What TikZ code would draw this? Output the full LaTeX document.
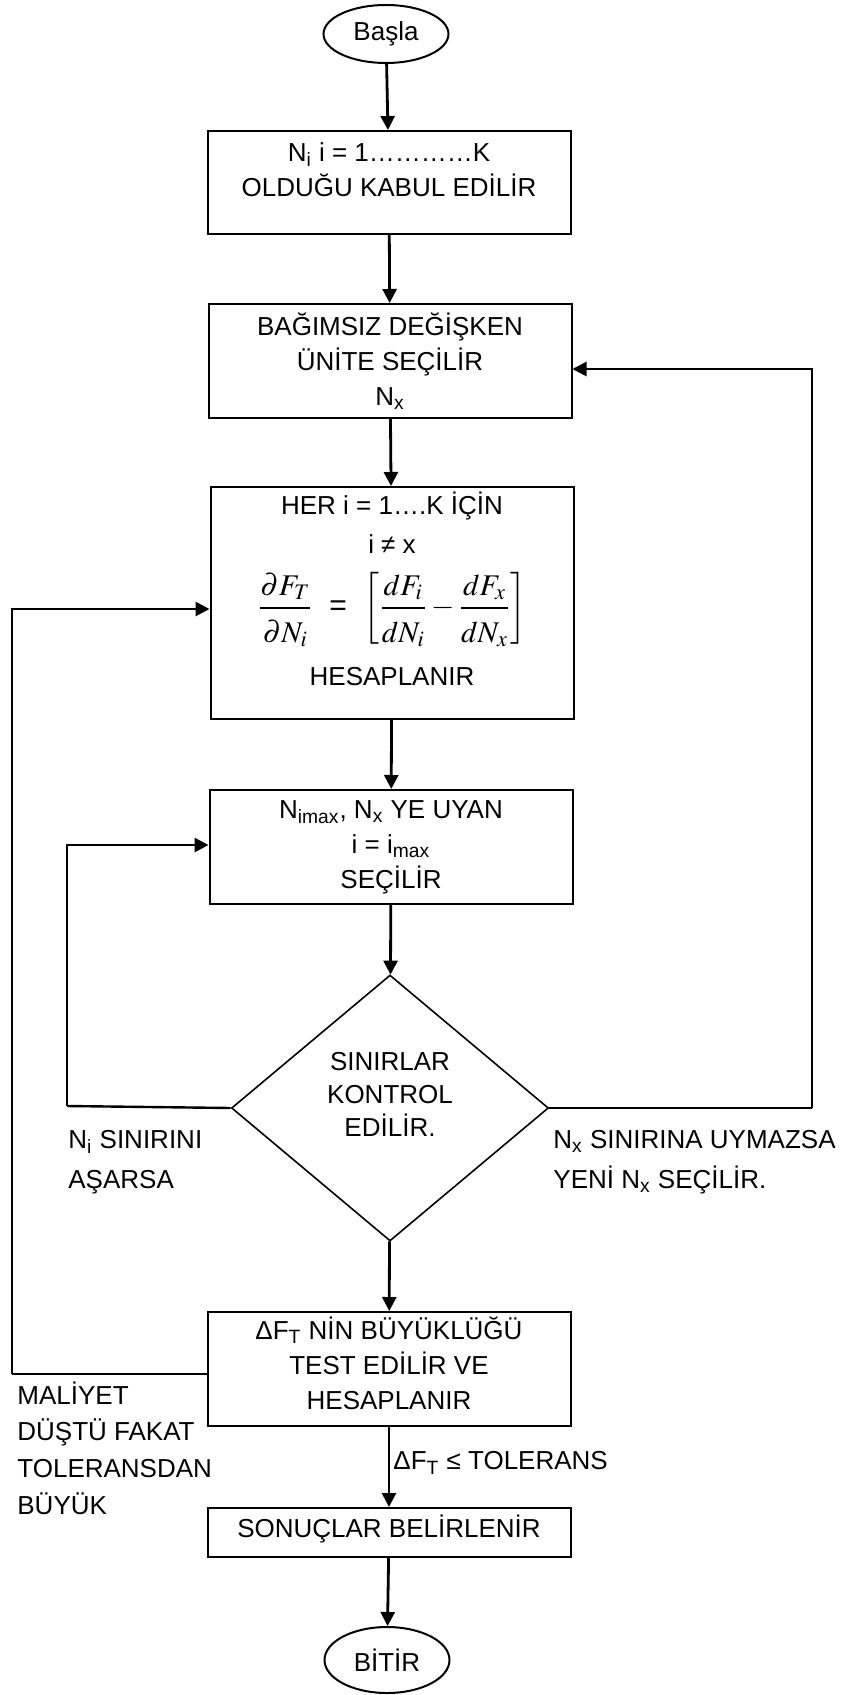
\documentclass[tikz,border=0pt]{standalone}
\usepackage{mathptmx}
\usepackage[no-math]{fontspec}
\setmainfont{Liberation Sans}
\usetikzlibrary{arrows.meta, shapes.geometric, positioning}
\tikzset{
	flownode/.style={
			shape=rectangle,
			draw=black,
			line width=1pt,
			minimum width=181.5pt,
			inner sep=0pt,
			align=center,
			font=\fontsize{13}{17.5}\selectfont
		},
	endnode/.style={
			shape=ellipse,
			draw=black,
			line width=1pt,
			minimum width=62.5pt,
			inner sep=0pt,
			font=\fontsize{13}{17.5}\selectfont
		},
	checknode/.style={
			shape=diamond,
			draw=black,
			line width=0.8pt,
			minimum width=158.5pt,
			minimum height=133pt,
			inner sep=0pt,
			align=center,
			font=\fontsize{13}{16.5}\selectfont
		},
	flowarrow/.style={
			line width=1.4pt,
			-{Triangle[length=7pt,width=7pt]}
		},
	flowline/.style={
			line width=1.2pt
		},
	labeltext/.style={
			anchor=west,
			inner sep=0pt,
			align=left,
			font=\fontsize{13}{20}\selectfont
		}
}
\newcommand{\numgap}{\rule[-4pt]{0pt}{4pt}}
\newcommand{\dengap}{\rule{0pt}{15pt}}

\begin{document}
\begin{tikzpicture}[x=0.5pt, y=-0.5pt]
  \useasboundingbox (0,0) rectangle (841,1695);

  \node[endnode, minimum height=29pt] (basla) at (386,34) {Başla};
  \node[flownode, minimum height=51.5pt] (kabul) at (389,182.5)
    {N\textsubscript{i} i = 1…………K\\OLDUĞU KABUL EDİLİR\\[-9.75pt] \strut};
  \node[flownode, minimum height=57pt] (secim) at (390,361)
    {BAĞIMSIZ DEĞİŞKEN\\ÜNİTE SEÇİLİR\\N\textsubscript{x}};
  \node[flownode, minimum height=116pt] (hesap) at (392,603)
    {HER i = 1….K İÇİN\\[2pt]i ≠ x\\[8pt]
     {\fontsize{15}{18}\selectfont$\displaystyle\frac{\partial F_T\numgap}{\dengap\partial N_i}$ \ = \ $\displaystyle\left[\frac{dF_i\numgap}{\dengap dN_i}-\frac{dF_x\numgap}{\dengap dN_x}\right]$}\\[9pt]
     HESAPLANIR\\[-8.5pt] \strut};
  \node[flownode, minimum height=57pt] (imax) at (391,847)
    {N\textsubscript{imax}, N\textsubscript{x} YE UYAN\\i = i\textsubscript{max}\\SEÇİLİR};
  \node[checknode] (kontrol) at (390,1108)
    {SINIRLAR\\KONTROL\\EDİLİR.\\[-7.75pt] \strut};
  \node[flownode, minimum height=57pt] (test) at (389,1369)
    {ΔF\textsubscript{T} NİN BÜYÜKLÜĞÜ\\TEST EDİLİR VE\\HESAPLANIR\\[-16.75pt] \strut};
  \node[flownode, minimum height=24.5pt] (sonuc) at (389,1532.5)
    {SONUÇLAR BELİRLENİR\\[-16.75pt] \strut};
  \node[endnode, minimum height=33pt] (bitir) at (387,1660) {BİTİR};

  \node[labeltext] (asarsa) at (68,1162) {N\textsubscript{i} SINIRINI\\AŞARSA};
  \node[labeltext] (uymazsa) at (553,1162) {N\textsubscript{x} SINIRINA UYMAZSA\\YENİ N\textsubscript{x} SEÇİLİR.};
  \node[labeltext, font=\fontsize{13}{18.3}\selectfont] (maliyet) at (17,1448)
    {MALİYET\\DÜŞTÜ FAKAT\\TOLERANSDAN\\BÜYÜK};
  \node[labeltext] (tolerans) at (393,1463) {ΔF\textsubscript{T} ≤ TOLERANS};

  \coordinate (sag) at (812,1108);
  \coordinate (sol) at (67,1106);
  \coordinate (dis) at (12,1374);

  \draw[flowarrow] (basla) -- (kabul);
  \draw[flowarrow] (kabul) -- (secim);
  \draw[flowarrow] (secim) -- (hesap);
  \draw[flowarrow] (hesap) -- (imax);
  \draw[flowarrow] (imax) -- (kontrol);
  \draw[flowarrow] (kontrol) -- (test);
  \draw[flowarrow] (test) -- (sonuc);
  \draw[flowarrow] (sonuc) -- (bitir);

  \draw[flowline] (kontrol.east) -- (sag);
  \draw[flowarrow] (sag) |- ([yshift=-4pt]secim.east);
  \draw[flowline] (kontrol.west) -- (sol);
  \draw[flowarrow] (sol) |- ([yshift=1pt]imax.west);
  \draw[flowline] ([yshift=-2.5pt]test.west) -- (dis);
  \draw[flowarrow] (dis) |- ([yshift=-3pt]hesap.west);

\end{tikzpicture}
\end{document}
